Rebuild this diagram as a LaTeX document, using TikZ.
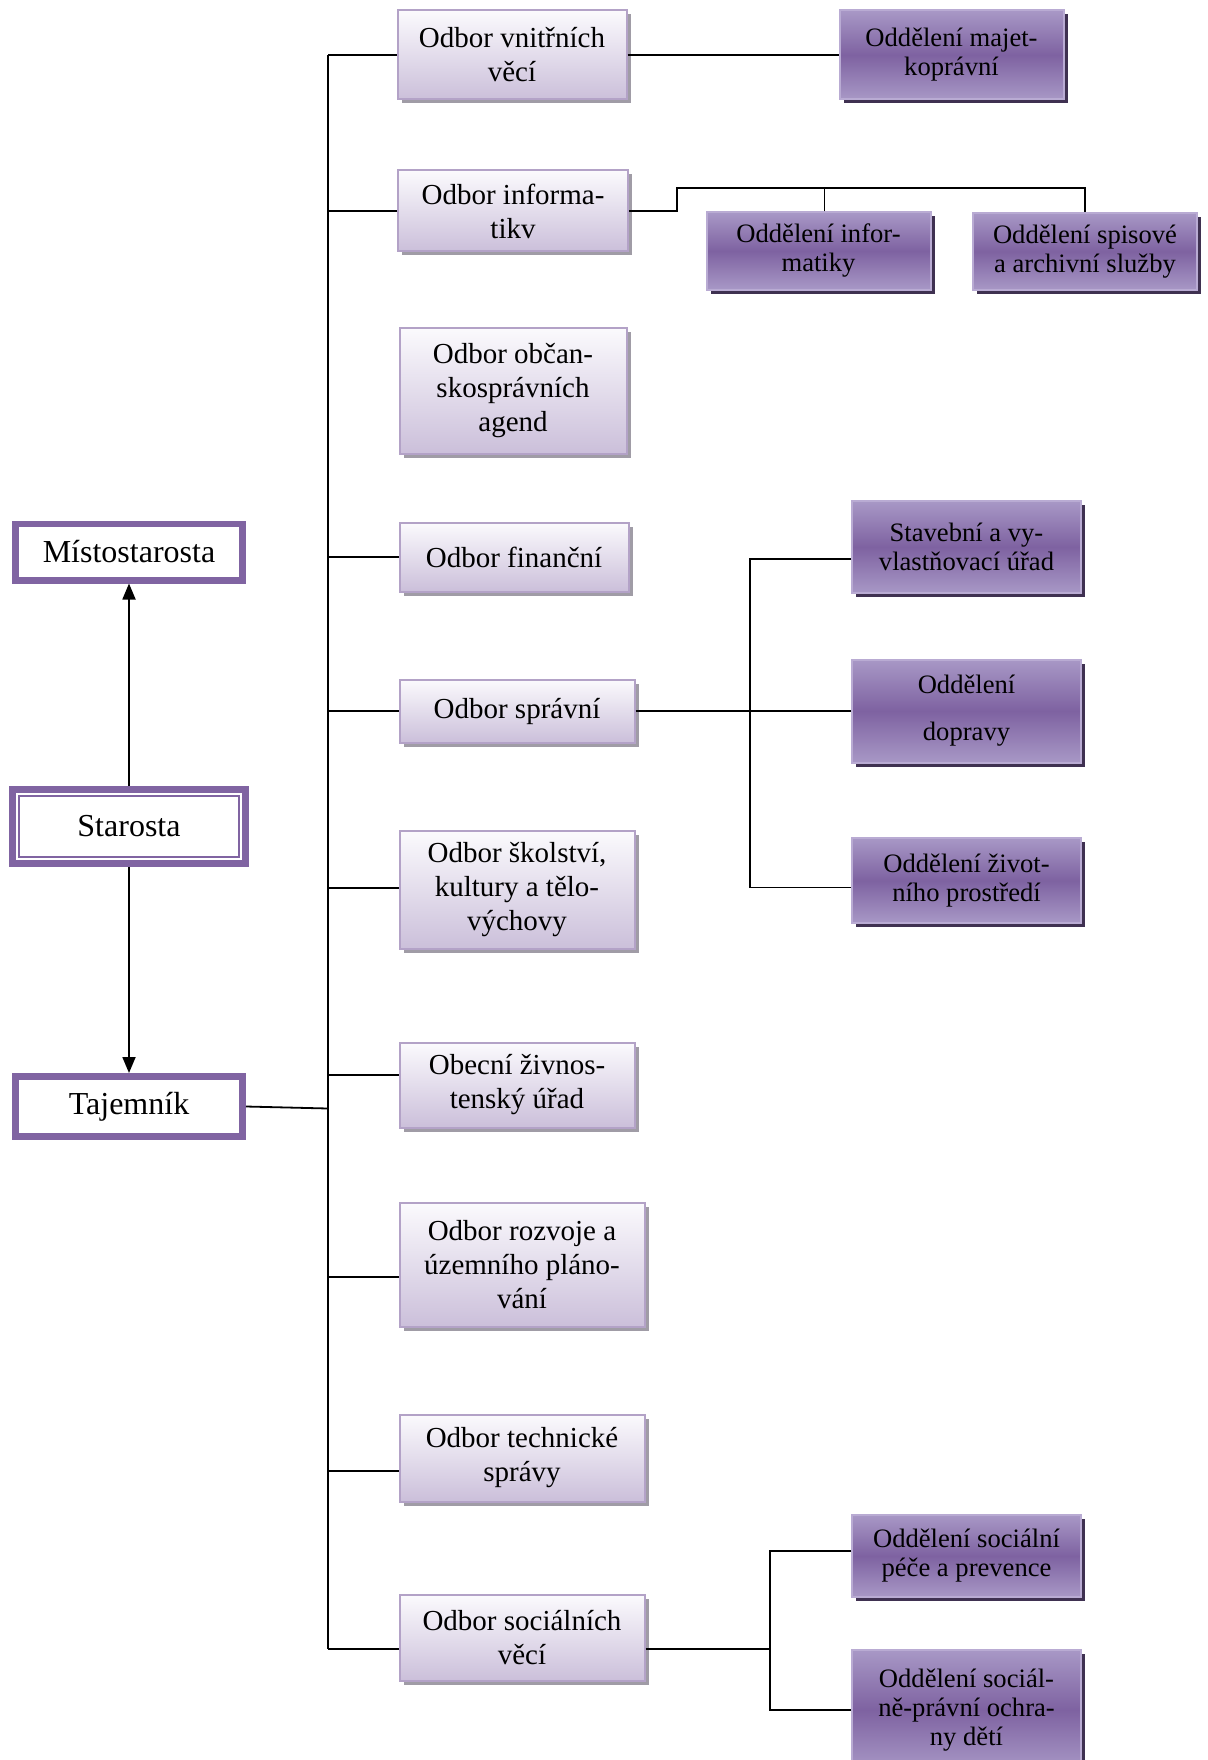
\documentclass[tikz,border=0pt]{standalone}
\usepackage{fontspec}
\setmainfont{Liberation Serif}
\usepackage{tikz}
\usetikzlibrary{arrows.meta,positioning,shadows}
\usepackage{xcolor}
\definecolor{vedeni}{HTML}{8064A2}
\definecolor{odbortop}{HTML}{FBFAFD}
\definecolor{odborbot}{HTML}{CBBFDA}
\definecolor{odborline}{HTML}{B3A2C7}
\definecolor{odborshade}{HTML}{A09CA6}
\definecolor{oddeltop}{HTML}{A898C6}
\definecolor{oddelmid}{HTML}{7E62A1}
\definecolor{oddelline}{HTML}{B9ABD3}
\definecolor{oddelshade}{HTML}{3F3151}

\begin{document}
\begin{tikzpicture}[
  x=0.5pt, y=-0.5pt,
  odbor/.style={rectangle, draw=odborline, line width=1pt, top color=odbortop, bottom color=odborbot, align=center, inner sep=1pt, text=black, font=\fontsize{14.5}{17}\selectfont, drop shadow={shadow xshift=2pt, shadow yshift=-2pt, opacity=1, fill=odborshade}},
  oddel/.style={rectangle, draw=oddelline, line width=1pt, top color=oddeltop, bottom color=oddeltop, middle color=oddelmid, align=center, inner sep=1pt, text=black, font=\fontsize{13.3}{14.5}\selectfont, minimum width=112pt, drop shadow={shadow xshift=2pt, shadow yshift=-2pt, opacity=1, fill=oddelshade}},
  vedbox/.style={rectangle, draw=vedeni, line width=3.3pt, fill=white, text=black, font=\fontsize{16}{19}\selectfont},
  conn/.style={black, line width=0.9pt},
  arr/.style={-{Triangle[length=8pt,width=6.5pt]}, black, line width=0.9pt},
]
\clip (0,0) rectangle (1208,1760);

\node[vedbox, minimum width=113.7pt, minimum height=28.2pt] (misto) at (129,552) {Místostarosta};
\node[vedbox, minimum width=116.5pt, minimum height=37pt] (star) at (129,826.5) {Starosta};
\node[vedbox, minimum width=113.7pt, minimum height=30.2pt] (taj) at (129,1106.5) {Tajemník};
\draw[vedeni, line width=0.8pt] ([shift={(5pt,-5pt)}]star.north west) rectangle ([shift={(-5pt,5pt)}]star.south east);

\node[odbor, minimum width=114.5pt, minimum height=44.5pt] (vnitr) at (512,55) {Odbor vnitřních\\věcí};
\node[odbor, minimum width=115pt, minimum height=40.5pt] (info) at (513,211) {Odbor informa-\\tikv};
\node[odbor, minimum width=113.5pt, minimum height=63pt] (obcan) at (513,391) {Odbor občan-\\skosprávních\\agend};
\node[odbor, minimum width=114.5pt, minimum height=34.5pt] (financ) at (514,557) {Odbor finanční};
\node[odbor, minimum width=117.5pt, minimum height=31.5pt] (sprav) at (517,711) {Odbor správní};
\node[odbor, minimum width=117.5pt, minimum height=59pt] (skol) at (517,890) {Odbor školství,\\kultury a tělo-\\výchovy};
\node[odbor, minimum width=117.5pt, minimum height=42.5pt] (zivn) at (517,1085) {Obecní živnos-\\tenský úřad};
\node[odbor, minimum width=122.5pt, minimum height=62pt] (rozv) at (522,1265) {Odbor rozvoje a\\územního pláno-\\vání};
\node[odbor, minimum width=122.5pt, minimum height=43.5pt] (tech) at (522,1458) {Odbor technické\\správy};
\node[odbor, minimum width=122.5pt, minimum height=43pt] (soc) at (522,1638) {Odbor sociálních\\věcí};

\node[oddel, minimum height=44.5pt] (majet) at (951.5,55) {Oddělení majet-\\koprávní};
\node[oddel, minimum height=38.5pt] (inform) at (818.5,251) {Oddělení infor-\\matiky};
\node[oddel, minimum height=38.5pt] (spis) at (1085,251.5) {Oddělení spisové\\a archivní služby};
\node[oddel, minimum width=114.5pt, minimum height=46pt] (stav) at (966.5,547) {Stavební a vy-\\vlastňovací úřad};
\node[oddel, minimum width=114.5pt, minimum height=51.5pt] (dopr) at (966.5,711) {Oddělení\\[9pt]dopravy};
\node[oddel, minimum width=114.5pt, minimum height=42.5pt] (ziv) at (966.5,880.5) {Oddělení život-\\ního prostředí};
\node[oddel, minimum width=114.5pt, minimum height=41pt] (socpece) at (966.5,1556) {Oddělení sociální\\péče a prevence};
\node[oddel, minimum width=114.5pt, minimum height=60pt] (socprav) at (966.5,1710) {Oddělení sociál-\\ně-právní ochra-\\ny dětí};

\coordinate (bus) at (328,0);
\coordinate (spravbar) at (750,0);
\coordinate (socbar) at (770,0);
\coordinate (infobar) at ([yshift=12pt]spis.north);

\draw[arr] (star.north) -- (misto.south);
\draw[arr] (star.south) -- (taj.north);

\draw[conn] (vnitr.west -| bus) -- ([yshift=-5.5pt]soc.west -| bus);
\foreach \n/\s in {vnitr/0, info/0, financ/0, sprav/0, skol/1, zivn/5, rozv/-6, tech/-6.5, soc/-5.5}
  \draw[conn] ([yshift=\s pt]\n.west) -- ([yshift=\s pt]\n.west -| bus);
\draw[conn] (taj.east) -- ([yshift=-1pt]taj.east -| bus);

\draw[conn] (vnitr.east) -- (majet.west);
\draw[conn] (info.east) -- ++(48,0) |- (infobar) -- (spis.north);
\draw[conn] ([xshift=3pt]inform.north) -- ([xshift=3pt]inform.north |- infobar);
\draw[conn] (sprav.east) -- (dopr.west);
\draw[conn] ([yshift=-6pt]stav.west) -| (sprav.east -| spravbar) |- ([yshift=-3.5pt]ziv.west);
\draw[conn] ([yshift=-5.5pt]soc.east) -- ([yshift=-5.5pt]soc.east -| socbar);
\draw[conn] ([yshift=2.5pt]socpece.west) -| (socprav.west -| socbar) -- (socprav.west);

\end{tikzpicture}
\end{document}
